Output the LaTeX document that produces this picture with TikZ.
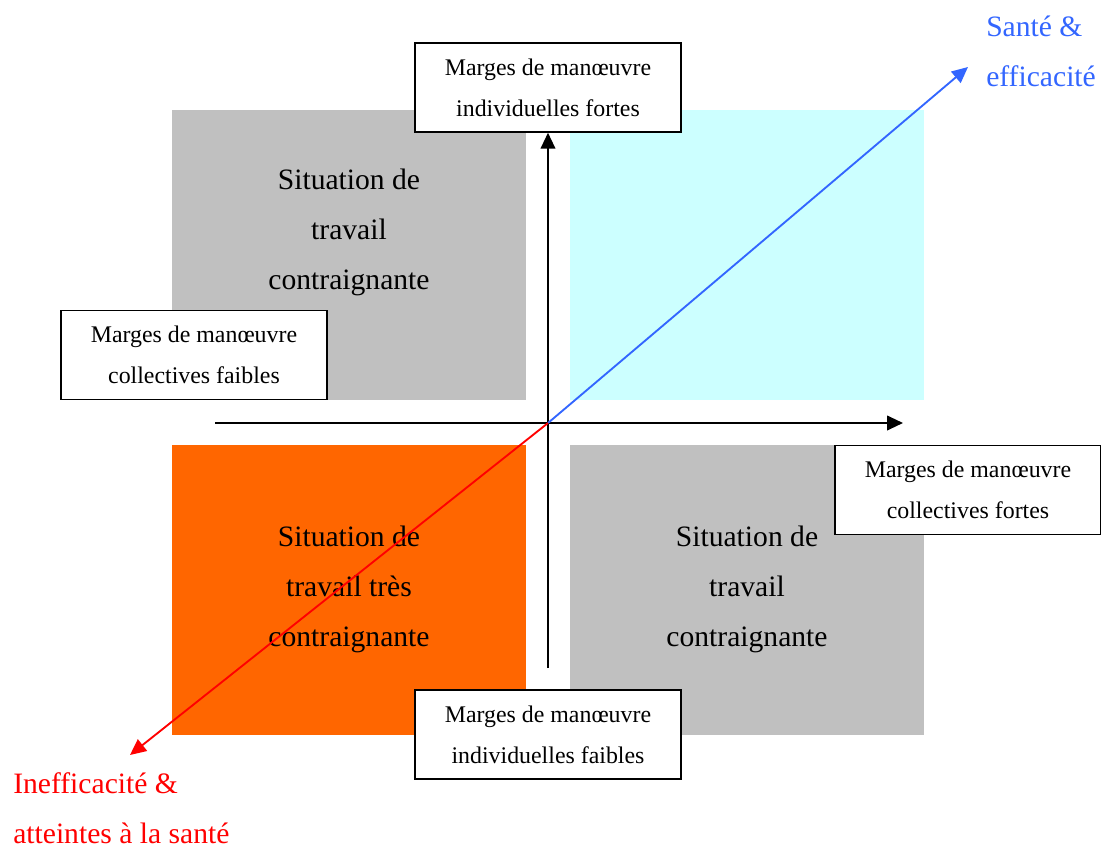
\documentclass[tikz,border=0pt]{standalone}
\usepackage{fontspec}
\setmainfont{Liberation Serif}
\usetikzlibrary{arrows.meta}
\definecolor{gris}{RGB}{192,192,192}
\definecolor{cyanclair}{RGB}{204,255,255}
\definecolor{orangevif}{RGB}{255,102,0}
\definecolor{bleu}{RGB}{51,102,255}
\definecolor{rouge}{RGB}{255,0,0}
\begin{document}
\begin{tikzpicture}[x=0.75pt,y=-0.75pt,
  marge/.style={draw,fill=white,line width=1.1pt,minimum width=199.5pt,minimum height=66.75pt,inner sep=0pt,align=center,font=\fontsize{17.9}{30.75}\selectfont},
  situation/.style={align=center,font=\fontsize{22.2}{37.5}\selectfont},
  axe/.style={line width=1.5pt,-{Triangle[length=12pt,width=11pt]}}]
\useasboundingbox (0,0) rectangle (1101,846);
%quadrants
\fill[gris] (172,110) rectangle (526,400);
\fill[cyanclair] (570,110) rectangle (924,400);
\fill[orangevif] (172,445) rectangle (526,735);
\fill[gris] (570,445) rectangle (924,735);
\node[situation] (hautgauche) at (349,232) {Situation de\\travail\\contraignante};
\node[situation] (basgauche) at (349,589) {Situation de\\travail très\\contraignante};
\node[situation] (basdroite) at (747,589) {Situation de\\travail\\contraignante};
%marges
\node[marge] (indfortes) at (548,87.5) {Marges de manœuvre\\individuelles fortes};
\node[marge] (colfaibles) at (194,355) {Marges de manœuvre\\collectives faibles};
\node[marge] (colfortes) at (968,490) {Marges de manœuvre\\collectives fortes};
\node[marge] (indfaibles) at (548,734.5) {Marges de manœuvre\\individuelles faibles};
%axes
\coordinate (O) at (548,423);
\coordinate (bas) at (548,668);
\coordinate (gauche) at (215,423);
\coordinate (droite) at (903,423);
\draw[axe] (bas) -- (indfortes.south);
\draw[axe] (gauche) -- (droite);
%diagonale
\coordinate (sante) at (968,67);
\coordinate (atteinte) at (130,755);
\draw[axe,line width=1.4pt,bleu] (O) -- (sante);
\draw[axe,line width=1.4pt,rouge] (O) -- (atteinte);
%Text
\node[situation,align=left,anchor=west,inner sep=0pt,text=bleu] (efficacite) at (986,51) {Santé \&\\efficacité};
\node[situation,align=left,anchor=west,inner sep=0pt,text=rouge] (inefficacite) at (13,808) {Inefficacité \&\\atteintes à la santé};
\end{tikzpicture}
\end{document}
